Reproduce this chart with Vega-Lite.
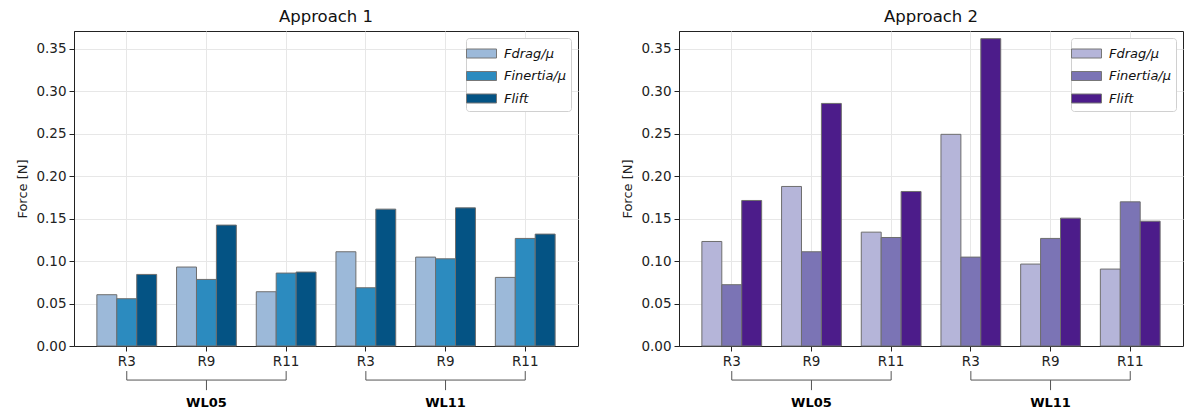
{
  "$schema": "https://vega.github.io/schema/vega-lite/v6.json",
  "padding": {"left": 16, "top": 8, "right": 0, "bottom": 2},
  "background": "white",
  "config": {
    "font": "DejaVu Sans",
    "view": {"stroke": "#222222", "strokeWidth": 1},
    "title": {"fontSize": 16.5, "fontWeight": "normal", "color": "#111111", "offset": 6},
    "axis": {
      "labelFontSize": 13.5,
      "labelColor": "#222222",
      "titleFontSize": 13,
      "titleFontWeight": "normal",
      "titleColor": "#222222",
      "titlePadding": 6,
      "domainColor": "#222222",
      "tickColor": "#222222",
      "tickSize": 5,
      "labelPadding": 3,
      "gridColor": "#e7e7e7",
      "gridWidth": 1
    },
    "legend": {
      "orient": "top-right",
      "offset": 7,
      "fillColor": "white",
      "strokeColor": "#d0d0d0",
      "cornerRadius": 3,
      "padding": 5,
      "labelFontSize": 13,
      "labelFont": "DejaVu Sans",
      "labelFontStyle": "italic",
      "labelColor": "#111111",
      "labelOffset": 12,
      "rowPadding": 4.5,
      "symbolType": "M-1.5,-0.45H1.5V0.45H-1.5Z",
      "symbolSize": 400,
      "symbolStrokeColor": "#777777",
      "symbolStrokeWidth": 1,
      "symbolOpacity": 1
    }
  },
  "datasets": {
    "forces": [
      {"panel": "Approach 1", "cat": "WL05 R3", "series": "drag", "value": 0.0604},
      {"panel": "Approach 1", "cat": "WL05 R3", "series": "inertia", "value": 0.0557},
      {"panel": "Approach 1", "cat": "WL05 R3", "series": "lift", "value": 0.0843},
      {"panel": "Approach 1", "cat": "WL05 R9", "series": "drag", "value": 0.0930},
      {"panel": "Approach 1", "cat": "WL05 R9", "series": "inertia", "value": 0.0784},
      {"panel": "Approach 1", "cat": "WL05 R9", "series": "lift", "value": 0.1424},
      {"panel": "Approach 1", "cat": "WL05 R11", "series": "drag", "value": 0.0639},
      {"panel": "Approach 1", "cat": "WL05 R11", "series": "inertia", "value": 0.0859},
      {"panel": "Approach 1", "cat": "WL05 R11", "series": "lift", "value": 0.0871},
      {"panel": "Approach 1", "cat": "WL11 R3", "series": "drag", "value": 0.1110},
      {"panel": "Approach 1", "cat": "WL11 R3", "series": "inertia", "value": 0.0686},
      {"panel": "Approach 1", "cat": "WL11 R3", "series": "lift", "value": 0.1612},
      {"panel": "Approach 1", "cat": "WL11 R9", "series": "drag", "value": 0.1047},
      {"panel": "Approach 1", "cat": "WL11 R9", "series": "inertia", "value": 0.1027},
      {"panel": "Approach 1", "cat": "WL11 R9", "series": "lift", "value": 0.1627},
      {"panel": "Approach 1", "cat": "WL11 R11", "series": "drag", "value": 0.0808},
      {"panel": "Approach 1", "cat": "WL11 R11", "series": "inertia", "value": 0.1267},
      {"panel": "Approach 1", "cat": "WL11 R11", "series": "lift", "value": 0.1318},
      {"panel": "Approach 2", "cat": "WL05 R3", "series": "drag", "value": 0.1231},
      {"panel": "Approach 2", "cat": "WL05 R3", "series": "inertia", "value": 0.0722},
      {"panel": "Approach 2", "cat": "WL05 R3", "series": "lift", "value": 0.1714},
      {"panel": "Approach 2", "cat": "WL05 R9", "series": "drag", "value": 0.1879},
      {"panel": "Approach 2", "cat": "WL05 R9", "series": "inertia", "value": 0.1110},
      {"panel": "Approach 2", "cat": "WL05 R9", "series": "lift", "value": 0.2857},
      {"panel": "Approach 2", "cat": "WL05 R11", "series": "drag", "value": 0.1341},
      {"panel": "Approach 2", "cat": "WL05 R11", "series": "inertia", "value": 0.1278},
      {"panel": "Approach 2", "cat": "WL05 R11", "series": "lift", "value": 0.1820},
      {"panel": "Approach 2", "cat": "WL11 R3", "series": "drag", "value": 0.2493},
      {"panel": "Approach 2", "cat": "WL11 R3", "series": "inertia", "value": 0.1047},
      {"panel": "Approach 2", "cat": "WL11 R3", "series": "lift", "value": 0.3620},
      {"panel": "Approach 2", "cat": "WL11 R9", "series": "drag", "value": 0.0965},
      {"panel": "Approach 2", "cat": "WL11 R9", "series": "inertia", "value": 0.1267},
      {"panel": "Approach 2", "cat": "WL11 R9", "series": "lift", "value": 0.1506},
      {"panel": "Approach 2", "cat": "WL11 R11", "series": "drag", "value": 0.0906},
      {"panel": "Approach 2", "cat": "WL11 R11", "series": "inertia", "value": 0.1698},
      {"panel": "Approach 2", "cat": "WL11 R11", "series": "lift", "value": 0.1470}
    ],
    "groups": [
      {"group": "WL05", "first": "WL05 R3", "mid": "WL05 R9", "last": "WL05 R11"},
      {"group": "WL11", "first": "WL11 R3", "mid": "WL11 R9", "last": "WL11 R11"}
    ]
  },
  "hconcat": [
    {
      "title": "Approach 1",
      "width": 504,
      "height": 315,
      "layer": [
        {
          "data": {"name": "forces"},
          "transform": [{"filter": "datum.panel === 'Approach 1'"}],
          "mark": {"type": "bar", "stroke": "#6e6e6e", "strokeWidth": 1},
          "encoding": {
            "x": {
              "field": "cat", "type": "nominal",
              "scale": {"domain": ["WL05 R3", "WL05 R9", "WL05 R11", "WL11 R3", "WL11 R9", "WL11 R11"], "paddingInner": 0.25, "paddingOuter": 0.287},
              "axis": {"title": null, "labelAngle": 0, "grid": true, "labelExpr": "split(datum.label, ' ')[1]"}
            },
            "xOffset": {
              "field": "series", "type": "nominal",
              "scale": {"domain": ["drag", "inertia", "lift"], "paddingInner": 0, "paddingOuter": 0}
            },
            "y": {
              "field": "value", "type": "quantitative",
              "scale": {"domain": [0, 0.371], "nice": false, "zero": true},
              "axis": {"title": "Force [N]", "values": [0, 0.05, 0.1, 0.15, 0.2, 0.25, 0.3, 0.35], "format": ".2f", "grid": true}
            },
            "color": {
              "field": "series", "type": "nominal",
              "scale": {"domain": ["drag", "inertia", "lift"], "range": ["#9cb9d9", "#2c8bbf", "#045384"]},
              "legend": {"title": null, "labelExpr": "datum.label === 'drag' ? 'Fdrag/μ' : datum.label === 'inertia' ? 'Finertia/μ' : 'Flift'"}
            }
          }
        },
        {
          "data": {"name": "groups"},
          "mark": {"type": "rule", "color": "#555555", "strokeWidth": 1},
          "encoding": {
            "x": {"field": "first", "type": "nominal"},
            "x2": {"field": "last"},
            "y": {"datum": -0.0401}
          }
        },
        {
          "data": {"name": "groups"},
          "mark": {"type": "rule", "color": "#555555", "strokeWidth": 1},
          "encoding": {
            "x": {"field": "first", "type": "nominal"},
            "y": {"datum": -0.0295},
            "y2": {"datum": -0.0401}
          }
        },
        {
          "data": {"name": "groups"},
          "mark": {"type": "rule", "color": "#555555", "strokeWidth": 1},
          "encoding": {
            "x": {"field": "last", "type": "nominal"},
            "y": {"datum": -0.0295},
            "y2": {"datum": -0.0401}
          }
        },
        {
          "data": {"name": "groups"},
          "mark": {"type": "rule", "color": "#555555", "strokeWidth": 1},
          "encoding": {
            "x": {"field": "mid", "type": "nominal"},
            "y": {"datum": -0.0401},
            "y2": {"datum": -0.052}
          }
        },
        {
          "data": {"name": "groups"},
          "mark": {"type": "text", "fontWeight": "bold", "fontSize": 13, "color": "#000000", "baseline": "middle"},
          "encoding": {
            "x": {"field": "mid", "type": "nominal"},
            "y": {"datum": -0.0672},
            "text": {"field": "group"}
          }
        }
      ]
    },
    {
      "title": "Approach 2",
      "width": 504,
      "height": 315,
      "layer": [
        {
          "data": {"name": "forces"},
          "transform": [{"filter": "datum.panel === 'Approach 2'"}],
          "mark": {"type": "bar", "stroke": "#6e6e6e", "strokeWidth": 1},
          "encoding": {
            "x": {
              "field": "cat", "type": "nominal",
              "scale": {"domain": ["WL05 R3", "WL05 R9", "WL05 R11", "WL11 R3", "WL11 R9", "WL11 R11"], "paddingInner": 0.25, "paddingOuter": 0.287},
              "axis": {"title": null, "labelAngle": 0, "grid": true, "labelExpr": "split(datum.label, ' ')[1]"}
            },
            "xOffset": {
              "field": "series", "type": "nominal",
              "scale": {"domain": ["drag", "inertia", "lift"], "paddingInner": 0, "paddingOuter": 0}
            },
            "y": {
              "field": "value", "type": "quantitative",
              "scale": {"domain": [0, 0.371], "nice": false, "zero": true},
              "axis": {"title": "Force [N]", "values": [0, 0.05, 0.1, 0.15, 0.2, 0.25, 0.3, 0.35], "format": ".2f", "grid": true}
            },
            "color": {
              "field": "series", "type": "nominal",
              "scale": {"domain": ["drag", "inertia", "lift"], "range": ["#b5b5d9", "#7b74b5", "#4c1c8a"]},
              "legend": {"title": null, "labelExpr": "datum.label === 'drag' ? 'Fdrag/μ' : datum.label === 'inertia' ? 'Finertia/μ' : 'Flift'"}
            }
          }
        },
        {
          "data": {"name": "groups"},
          "mark": {"type": "rule", "color": "#555555", "strokeWidth": 1},
          "encoding": {
            "x": {"field": "first", "type": "nominal"},
            "x2": {"field": "last"},
            "y": {"datum": -0.0401}
          }
        },
        {
          "data": {"name": "groups"},
          "mark": {"type": "rule", "color": "#555555", "strokeWidth": 1},
          "encoding": {
            "x": {"field": "first", "type": "nominal"},
            "y": {"datum": -0.0295},
            "y2": {"datum": -0.0401}
          }
        },
        {
          "data": {"name": "groups"},
          "mark": {"type": "rule", "color": "#555555", "strokeWidth": 1},
          "encoding": {
            "x": {"field": "last", "type": "nominal"},
            "y": {"datum": -0.0295},
            "y2": {"datum": -0.0401}
          }
        },
        {
          "data": {"name": "groups"},
          "mark": {"type": "rule", "color": "#555555", "strokeWidth": 1},
          "encoding": {
            "x": {"field": "mid", "type": "nominal"},
            "y": {"datum": -0.0401},
            "y2": {"datum": -0.052}
          }
        },
        {
          "data": {"name": "groups"},
          "mark": {"type": "text", "fontWeight": "bold", "fontSize": 13, "color": "#000000", "baseline": "middle"},
          "encoding": {
            "x": {"field": "mid", "type": "nominal"},
            "y": {"datum": -0.0672},
            "text": {"field": "group"}
          }
        }
      ]
    }
  ],
  "spacing": 42,
  "resolve": {"scale": {"color": "independent", "x": "independent", "y": "independent"}, "legend": {"color": "independent"}}
}
